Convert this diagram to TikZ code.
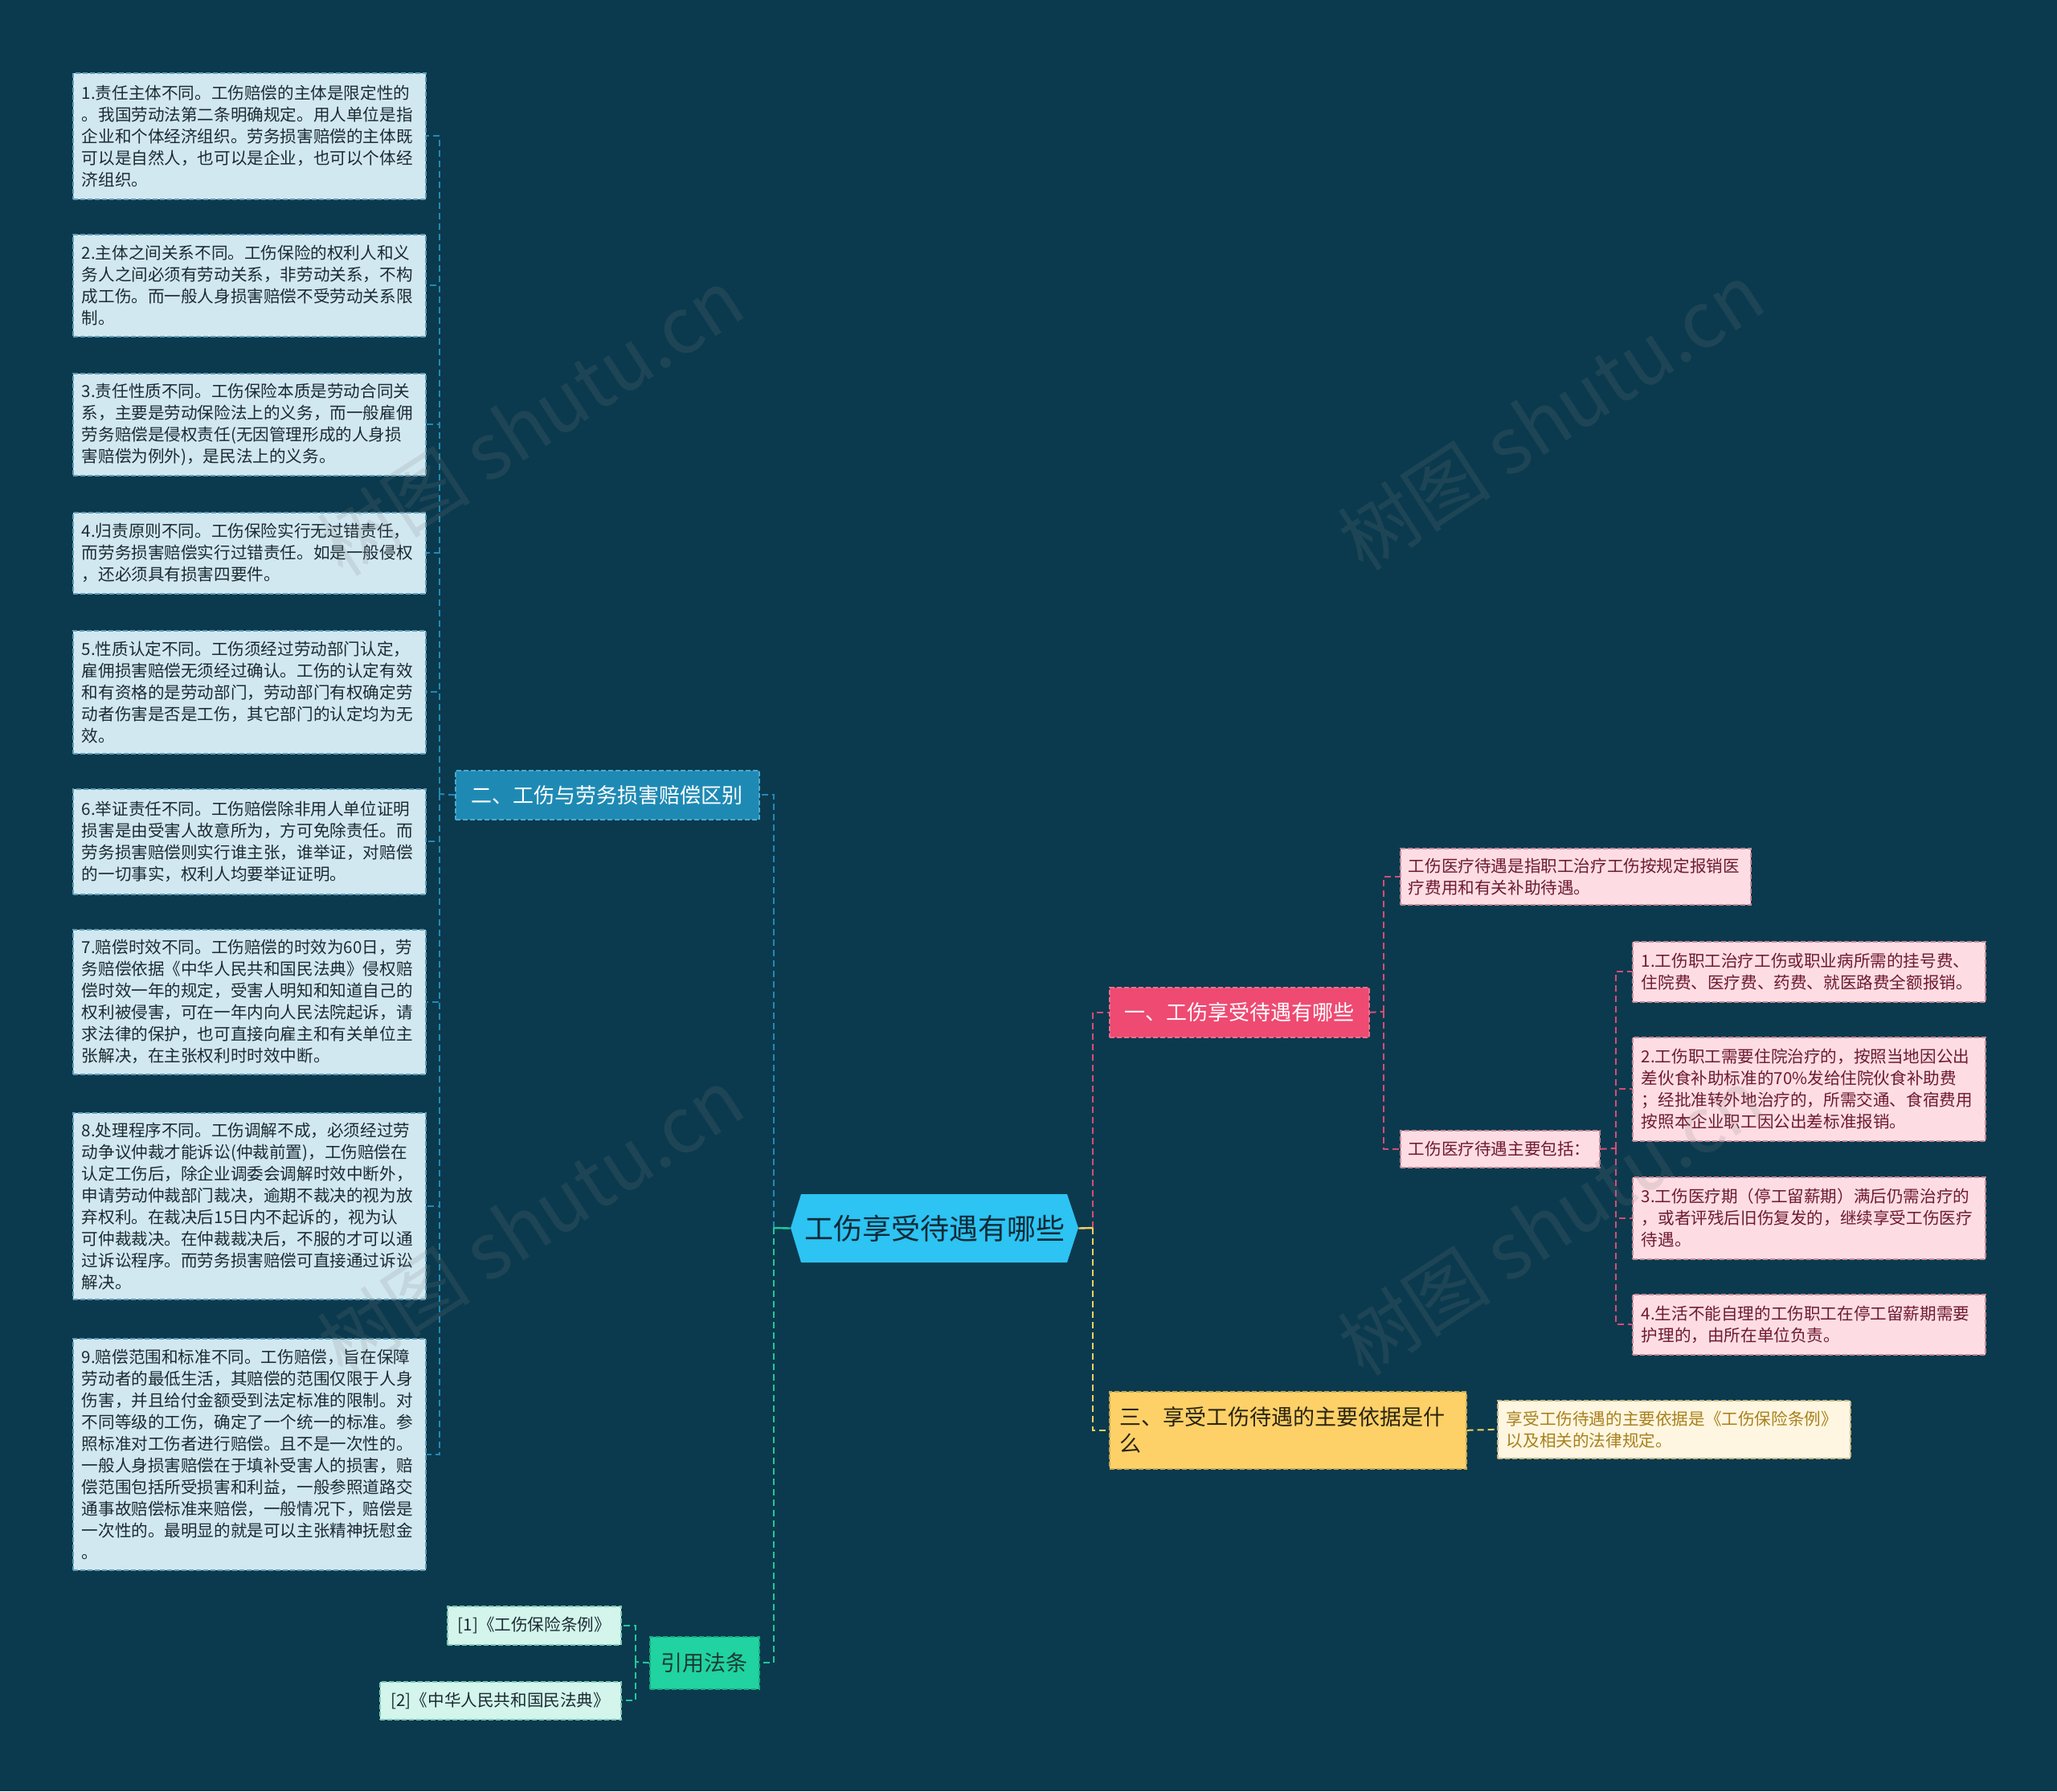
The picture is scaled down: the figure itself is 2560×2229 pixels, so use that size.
\documentclass[tikz,border=0pt]{standalone}
\usepackage{fontspec}
\setmainfont{Noto Sans CJK SC}
\definecolor{bg}{HTML}{0B3A4E}
\definecolor{lfill}{HTML}{D2E8F0}
\definecolor{lborder}{HTML}{5E9DB8}
\definecolor{ltext}{HTML}{1C2B33}
\definecolor{bconn}{HTML}{2389B5}
\definecolor{erfill}{HTML}{1E8AB4}
\definecolor{erborder}{HTML}{4FA9CF}
\definecolor{rootfill}{HTML}{2DC3F2}
\definecolor{roottext}{HTML}{0E2B38}
\definecolor{onefill}{HTML}{EE4A72}
\definecolor{pconn}{HTML}{D94C74}
\definecolor{pfill}{HTML}{FDDDE3}
\definecolor{ptext}{HTML}{6E1A30}
\definecolor{pborder}{HTML}{C98898}
\definecolor{threefill}{HTML}{FDD168}
\definecolor{threetext}{HTML}{2A2410}
\definecolor{yconn}{HTML}{F6D060}
\definecolor{cfill}{HTML}{FEF6E0}
\definecolor{ctext}{HTML}{A8801C}
\definecolor{cborder}{HTML}{C9B680}
\definecolor{citefill}{HTML}{20D3A1}
\definecolor{citetext}{HTML}{1D3A33}
\definecolor{gconn}{HTML}{20C99A}
\definecolor{rfill}{HTML}{D3F5EB}
\definecolor{rborder}{HTML}{7CC9B2}
\newcommand{\fsS}{\fontsize{10.3pt}{13.5pt}\selectfont}
\newcommand{\fsM}{\fontsize{13pt}{16.5pt}\selectfont}
\newcommand{\fsT}{\fontsize{13.5pt}{16.5pt}\selectfont}
\newcommand{\fsL}{\fontsize{18pt}{22pt}\selectfont}
\newcommand{\fsW}{\fontsize{48pt}{48pt}\selectfont}
\tikzset{
  boxbase/.style={rectangle, anchor=north west, inner ysep=0pt, line width=0.8pt, dash pattern=on 3pt off 1.5pt},
  lleaf/.style={boxbase, font=\fsS, fill=lfill, draw=lborder, text=ltext, inner xsep=5.5pt, text width=208.5pt, align=left},
  pleaf/.style={boxbase, font=\fsS, fill=pfill, draw=pborder, text=ptext, inner xsep=5.5pt, text width=208.5pt, align=left},
  cleaf/.style={boxbase, font=\fsS, fill=cfill, draw=cborder, text=ctext, inner xsep=5.5pt, text width=208.5pt, align=left},
  rleaf/.style={boxbase, font=\fsS, fill=rfill, draw=rborder, text=ltext, inner xsep=0pt, align=center},
  bline/.style={draw=bconn, line width=1pt, dash pattern=on 4pt off 2.5pt},
  pline/.style={draw=pconn, line width=1pt, dash pattern=on 4pt off 2.5pt},
  yline/.style={draw=yconn, line width=1pt, dash pattern=on 4pt off 2.5pt},
  gline/.style={draw=gconn, line width=1pt, dash pattern=on 4pt off 2.5pt},
  wmark/.style={font=\fsW, text=gray, opacity=0.17, rotate=33}
}
\begin{document}
\begin{tikzpicture}[x=0.5pt,y=-0.5pt]
\fill[bg] (0,0) rectangle (2560,2229);
\useasboundingbox (0,0) rectangle (2560,2229);

% left leaves
\node[lleaf, minimum height=78.5pt] (b1) at (90,90) {1.责任主体不同。工伤赔偿的主体是限定性的\\。我国劳动法第二条明确规定。用人单位是指\\企业和个体经济组织。劳务损害赔偿的主体既\\可以是自然人，也可以是企业，也可以个体经\\济组织。};
\node[lleaf, minimum height=63.5pt] (b2) at (90,291) {2.主体之间关系不同。工伤保险的权利人和义\\务人之间必须有劳动关系，非劳动关系，不构\\成工伤。而一般人身损害赔偿不受劳动关系限\\制。};
\node[lleaf, minimum height=63.5pt] (b3) at (90,464) {3.责任性质不同。工伤保险本质是劳动合同关\\系，主要是劳动保险法上的义务，而一般雇佣\\劳务赔偿是侵权责任(无因管理形成的人身损\\害赔偿为例外)，是民法上的义务。};
\node[lleaf, minimum height=50.5pt] (b4) at (90,637) {4.归责原则不同。工伤保险实行无过错责任，\\而劳务损害赔偿实行过错责任。如是一般侵权\\，还必须具有损害四要件。};
\node[lleaf, minimum height=76.5pt] (b5) at (90,784) {5.性质认定不同。工伤须经过劳动部门认定，\\雇佣损害赔偿无须经过确认。工伤的认定有效\\和有资格的是劳动部门，劳动部门有权确定劳\\动者伤害是否是工伤，其它部门的认定均为无\\效。};
\node[lleaf, minimum height=65.5pt] (b6) at (90,981) {6.举证责任不同。工伤赔偿除非用人单位证明\\损害是由受害人故意所为，方可免除责任。而\\劳务损害赔偿则实行谁主张，谁举证，对赔偿\\的一切事实，权利人均要举证证明。};
\node[lleaf, minimum height=90pt] (b7) at (90,1156) {7.赔偿时效不同。工伤赔偿的时效为60日，劳\\务赔偿依据《中华人民共和国民法典》侵权赔\\偿时效一年的规定，受害人明知和知道自己的\\权利被侵害，可在一年内向人民法院起诉，请\\求法律的保护，也可直接向雇主和有关单位主\\张解决，在主张权利时时效中断。};
\node[lleaf, minimum height=116pt] (b8) at (90,1384) {8.处理程序不同。工伤调解不成，必须经过劳\\动争议仲裁才能诉讼(仲裁前置)，工伤赔偿在\\认定工伤后，除企业调委会调解时效中断外，\\申请劳动仲裁部门裁决，逾期不裁决的视为放\\弃权利。在裁决后15日内不起诉的，视为认\\可仲裁裁决。在仲裁裁决后，不服的才可以通\\过诉讼程序。而劳务损害赔偿可直接通过诉讼\\解决。};
\node[lleaf, minimum height=144pt] (b9) at (90,1665) {9.赔偿范围和标准不同。工伤赔偿，旨在保障\\劳动者的最低生活，其赔偿的范围仅限于人身\\伤害，并且给付金额受到法定标准的限制。对\\不同等级的工伤，确定了一个统一的标准。参\\照标准对工伤者进行赔偿。且不是一次性的。\\一般人身损害赔偿在于填补受害人的损害，赔\\偿范围包括所受损害和利益，一般参照道路交\\通事故赔偿标准来赔偿，一般情况下，赔偿是\\一次性的。最明显的就是可以主张精神抚慰金\\。};

% branch 二
\node[boxbase, fill=erfill, draw=erborder, text=white, font=\fsM, minimum width=189pt, minimum height=30.5pt, inner xsep=0pt, align=center] (er) at (566,958) {二、工伤与劳务损害赔偿区别};

% root
\fill[rootfill] (984,1528) -- (997,1486) -- (1328,1486) -- (1342,1528) -- (1328,1571) -- (997,1571) -- cycle;
\node[minimum width=179pt, minimum height=42.5pt, inner sep=0pt, font=\fsL, text=roottext] (root) at (1163,1528.5) {工伤享受待遇有哪些};

% branch 一
\node[boxbase, fill=onefill, draw=onefill!80!white, text=white, font=\fsM, minimum width=161.5pt, minimum height=31pt, inner xsep=0pt, align=center] (one) at (1380,1228) {一、工伤享受待遇有哪些};
\node[pleaf, minimum height=35pt, inner xsep=5pt, text width=208pt] (c1) at (1742,1055) {工伤医疗待遇是指职工治疗工伤按规定报销医\\疗费用和有关补助待遇。};
\node[pleaf, minimum height=23pt, inner xsep=5pt, text width=114pt] (c2) at (1742,1406) {工伤医疗待遇主要包括：};
\node[pleaf, minimum height=37.5pt] (s1) at (2031,1171) {1.工伤职工治疗工伤或职业病所需的挂号费、\\住院费、医疗费、药费、就医路费全额报销。};
\node[pleaf, minimum height=64.5pt] (s2) at (2031,1290) {2.工伤职工需要住院治疗的，按照当地因公出\\差伙食补助标准的70\%发给住院伙食补助费\\；经批准转外地治疗的，所需交通、食宿费用\\按照本企业职工因公出差标准报销。};
\node[pleaf, minimum height=51pt] (s3) at (2031,1464) {3.工伤医疗期（停工留薪期）满后仍需治疗的\\，或者评残后旧伤复发的，继续享受工伤医疗\\待遇。};
\node[pleaf, minimum height=37.5pt] (s4) at (2031,1610) {4.生活不能自理的工伤职工在停工留薪期需要\\护理的，由所在单位负责。};

% branch 三
\node[boxbase, fill=threefill, draw=threefill!80!black, text=threetext, font=\fsT, minimum height=48pt, inner xsep=6.5pt, text width=209pt, align=left] (three) at (1380,1731) {三、享受工伤待遇的主要依据是什\\么};
\node[cleaf, minimum height=36pt] (t1) at (1863,1742) {享受工伤待遇的主要依据是《工伤保险条例》\\以及相关的法律规定。};

% branch 引用法条
\node[boxbase, fill=citefill, draw=citefill!80!black, text=citetext, font=\fsT, minimum width=68pt, minimum height=32.5pt, inner xsep=0pt, align=center] (cite) at (808,2036) {引用法条};
\node[rleaf, minimum width=108pt, minimum height=24pt] (r1) at (556,1998) {[1]《工伤保险条例》};
\node[rleaf, minimum width=150pt, minimum height=23.5pt] (r2) at (472,2092) {[2]《中华人民共和国民法典》};

% bus coordinates
\coordinate (busL) at (547,988);
\coordinate (busC) at (963,1528);
\coordinate (busR) at (1360,1528);
\coordinate (bus1) at (1722,1259);
\coordinate (bus2) at (2011,1429);
\coordinate (busCite) at (791,2068);

% connectors
\draw[bline] (er.west) -- (busL);
\foreach \b in {b1,b2,b3,b4,b5,b6,b7,b8,b9} {\draw[bline] (busL) |- (\b.east);}
\draw[bline] (busC) |- (er.east);
\draw[gline] (busC) |- (cite.east);
\draw[draw=gconn, line width=1.2pt] (root.west) -- (busC);
\draw[pline] (busR) |- (one.west);
\draw[yline] (busR) |- (three.west);
\draw[draw=yconn, line width=1.2pt] (root.east) -- (busR);
\draw[pline] (one.east) -- (bus1);
\draw[pline] (bus1) |- (c1.west);
\draw[pline] (bus1) |- (c2.west);
\draw[pline] (c2.east) -- (bus2);
\foreach \s in {s1,s2,s3,s4} {\draw[pline] (bus2) |- (\s.west);}
\draw[yline] (three.east) -- (t1.west);
\draw[gline] (cite.west) -- (busCite);
\draw[gline] (busCite) |- (r1.east);
\draw[gline] (busCite) |- (r2.east);

% watermarks
\node[wmark] (w1) at (660,525) {树图 shutu.cn};
\node[wmark] (w2) at (1930,518) {树图 shutu.cn};
\node[wmark] (w3) at (660,1520) {树图 shutu.cn};
\node[wmark] (w4) at (1930,1520) {树图 shutu.cn};
\end{tikzpicture}
\end{document}
